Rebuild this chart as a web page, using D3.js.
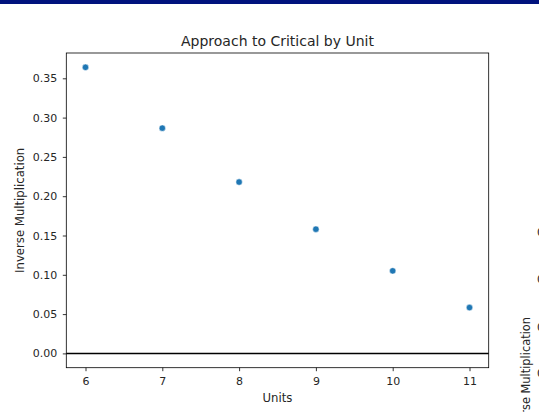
<!DOCTYPE html>
<html><head><meta charset="utf-8">
<script src="https://cdn.jsdelivr.net/npm/d3@7"></script>
<style>body{margin:0;background:#fff;overflow:hidden}svg{display:block}text{font-family:"DejaVu Sans",sans-serif;fill:#262626}</style>
</head><body>
<script>
const units = [6, 7, 8, 9, 10, 11];
const inverseMult = [0.364, 0.2866, 0.218, 0.158, 0.105, 0.0583];
const yTicks = [0.00, 0.05, 0.10, 0.15, 0.20, 0.25, 0.30, 0.35];
const xTicks = [6, 7, 8, 9, 10, 11];
const rightTickLabels = ["0.30", "0.20", "0.10", "0.00"];

const W = 539, H = 412;
const svg = d3.select("body").append("svg").attr("width", W).attr("height", H);
svg.append("rect").attr("x",0).attr("y",0).attr("width",W).attr("height",4).attr("fill","#00127d");

const L = 66.3, R = 488.7, T = 53, B = 367.7;
const x = d3.scaleLinear().domain([5.75, 11.25]).range([L, R]);
const ymax = 0.364, pad = ymax*0.05;
const y = d3.scaleLinear().domain([-pad, ymax + pad]).range([B, T]);

const g = svg.append("g");
const xa = g.append("g").attr("transform", `translate(0,${B})`)
  .call(d3.axisBottom(x).tickValues(xTicks).tickFormat(d3.format("d")).tickSize(3.5).tickPadding(6));
const ya = g.append("g").attr("transform", `translate(${L},0)`)
  .call(d3.axisLeft(y).tickValues(yTicks).tickFormat(d3.format(".2f")).tickSize(3.5).tickPadding(5.5));
[xa, ya].forEach(a => {
  a.select(".domain").remove();
  a.selectAll("line").attr("stroke","#000").attr("stroke-width",0.8);
  a.selectAll("text").attr("font-size",11).attr("fill","#262626").style("font-family","DejaVu Sans");
});
g.append("line").attr("x1",L).attr("x2",R).attr("y1",y(0)).attr("y2",y(0)).attr("stroke","#000").attr("stroke-width",1.5);
g.append("rect").attr("x",L).attr("y",T).attr("width",R-L).attr("height",B-T)
  .attr("fill","none").attr("stroke","#000").attr("stroke-width",0.8);
g.selectAll("circle.pt").data(units.map((u,i)=>[u,inverseMult[i]])).enter().append("circle")
  .attr("class","pt").attr("cx",d=>x(d[0])).attr("cy",d=>y(d[1])).attr("r",3.2)
  .attr("fill","#1f77b4").attr("stroke","#fff").attr("stroke-width",0.5);
svg.append("text").attr("x",(L+R)/2).attr("y",46).attr("text-anchor","middle").attr("font-size",14)
  .attr("fill","#000").text("Approach to Critical by Unit");
svg.append("text").attr("x",(L+R)/2).attr("y",402).attr("text-anchor","middle").attr("font-size",11.7)
  .attr("fill","#000").text("Units");
svg.append("text").attr("transform",`translate(23.5,${(T+B)/2}) rotate(-90)`).attr("text-anchor","middle")
  .attr("font-size",11.7).attr("fill","#000").text("Inverse Multiplication");

// cut-off neighbouring chart at the right edge
svg.append("text").attr("transform",`translate(530,317) rotate(-90)`).attr("text-anchor","end")
  .attr("font-size",11.4).attr("fill","#000").text("Inverse Multiplication");
const rY = [231.7, 279, 326.7, 373.3];
svg.selectAll("text.rt").data(rightTickLabels).enter().append("text").attr("class","rt")
  .attr("x",537).attr("y",(d,i)=>rY[i]+4).attr("font-size",11).text(d=>d);
</script>
</body></html>
